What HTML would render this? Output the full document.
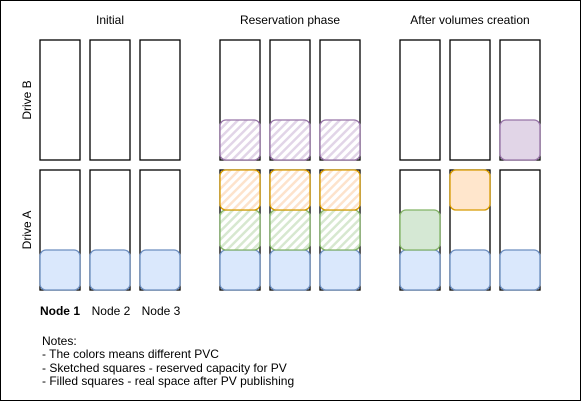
<!DOCTYPE html>
<html><head><meta charset="utf-8"><style>
html,body{margin:0;padding:0;background:#fff}
svg{display:block;font-family:"Liberation Sans",Arial,sans-serif;font-size:12px}
</style></head><body>
<svg width="581" height="401" viewBox="0 0 581 401">
<defs>
<pattern id="hO" width="6" height="6" patternUnits="userSpaceOnUse" patternTransform="rotate(45)"><rect width="6" height="6" fill="#fff"/><rect width="2.5" height="6" fill="#fde3cc"/></pattern>
<pattern id="hG" width="6" height="6" patternUnits="userSpaceOnUse" patternTransform="rotate(45)"><rect width="6" height="6" fill="#fff"/><rect width="2.5" height="6" fill="#d7e8d0"/></pattern>
<pattern id="hP" width="6" height="6" patternUnits="userSpaceOnUse" patternTransform="rotate(45)"><rect width="6" height="6" fill="#fff"/><rect width="2.5" height="6" fill="#e2d5e8"/></pattern>
</defs>
<rect x="0.5" y="0.5" width="580" height="400" fill="#fff" stroke="#000"/>
<g text-anchor="middle" fill="#000">
<text x="110" y="24">Initial</text>
<text x="290" y="24">Reservation phase</text>
<text x="470" y="24">After volumes creation</text>
<text transform="translate(31,100) rotate(-90)">Drive B</text>
<text transform="translate(31,230) rotate(-90)">Drive A</text>
<text x="60" y="315" font-weight="bold">Node 1</text>
<text x="111" y="315">Node 2</text>
<text x="161" y="315">Node 3</text>
</g>
<g id="drives" fill="#fff" stroke="#000" stroke-width="1.3"></g>
<g id="blocks" stroke-width="1.3"></g>
<g fill="#000">
<text x="42" y="345">Notes:</text>
<text x="42" y="358">- The colors means different PVC</text>
<text x="42" y="372">- Sketched squares - reserved capacity for PV</text>
<text x="42" y="385">- Filled squares - real space after PV publishing</text>
</g>
</svg>
<script>
const NS='http://www.w3.org/2000/svg';
const cols=[40,90,140,220,270,320,400,450,500];
const driveTops=[40,170];
const dg=document.getElementById('drives');
cols.forEach((x,i)=>driveTops.forEach((y,j)=>{
 const r=document.createElementNS(NS,'rect');
 r.setAttribute('x',x);r.setAttribute('y',y);r.setAttribute('width',40);r.setAttribute('height',120);
 
 
 dg.appendChild(r);
}));
// [col, top, fill, stroke, name]
const blocks=[
 [40,250,'#dae8fc','#6c8ebf','blue'],[90,250,'#dae8fc','#6c8ebf','blue'],[140,250,'#dae8fc','#6c8ebf','blue'],
 [220,250,'#dae8fc','#6c8ebf','blue'],[270,250,'#dae8fc','#6c8ebf','blue'],[320,250,'#dae8fc','#6c8ebf','blue'],
 [220,210,'url(#hG)','#82b366','green-sketch'],[270,210,'url(#hG)','#82b366','green-sketch'],[320,210,'url(#hG)','#82b366','green-sketch'],
 [220,170,'url(#hO)','#d79b00','orange-sketch'],[270,170,'url(#hO)','#d79b00','orange-sketch'],[320,170,'url(#hO)','#d79b00','orange-sketch'],
 [220,120,'url(#hP)','#9673a6','purple-sketch'],[270,120,'url(#hP)','#9673a6','purple-sketch'],[320,120,'url(#hP)','#9673a6','purple-sketch'],
 [400,250,'#dae8fc','#6c8ebf','blue'],[450,250,'#dae8fc','#6c8ebf','blue'],[500,250,'#dae8fc','#6c8ebf','blue'],
 [400,210,'#d5e8d4','#82b366','green'],[450,170,'#ffe6cc','#d79b00','orange'],[500,120,'#e1d5e7','#9673a6','purple']
];
const bg=document.getElementById('blocks');
blocks.forEach(b=>{
 const r=document.createElementNS(NS,'rect');
 r.setAttribute('x',b[0]);r.setAttribute('y',b[1]);r.setAttribute('width',40);r.setAttribute('height',40);
 r.setAttribute('rx',6);r.setAttribute('fill',b[2]);r.setAttribute('stroke',b[3]);
 
 
 bg.appendChild(r);
});
</script>
</body></html>
